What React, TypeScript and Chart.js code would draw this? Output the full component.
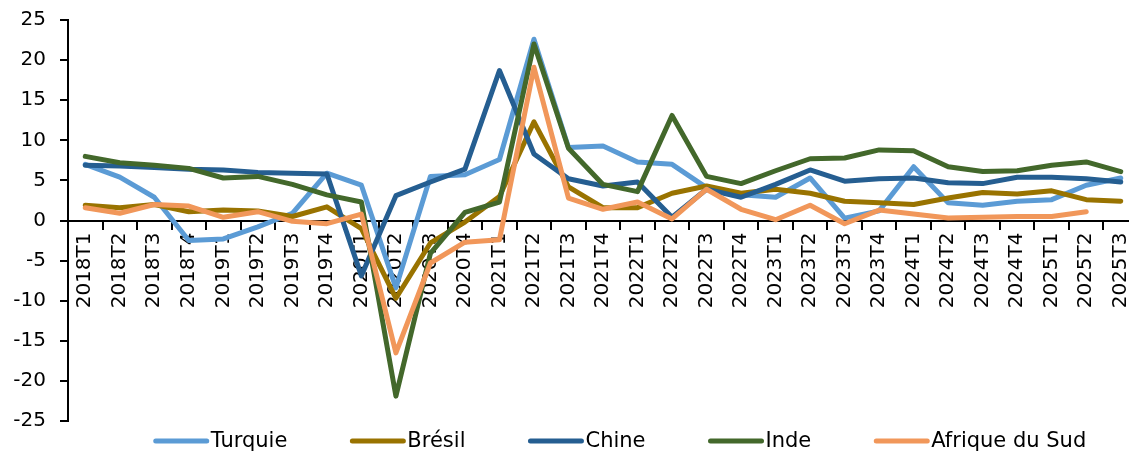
import { useEffect, useRef } from "react";
import { Chart, registerables } from "chart.js";

Chart.register(...registerables);

const FONT = "'DejaVu Sans', Verdana, sans-serif";

const quarters = [
  "2018T1", "2018T2", "2018T3", "2018T4",
  "2019T1", "2019T2", "2019T3", "2019T4",
  "2020T1", "2020T2", "2020T3", "2020T4",
  "2021T1", "2021T2", "2021T3", "2021T4",
  "2022T1", "2022T2", "2022T3", "2022T4",
  "2023T1", "2023T2", "2023T3", "2023T4",
  "2024T1", "2024T2", "2024T3", "2024T4",
  "2025T1", "2025T2", "2025T3",
];

const turquie = [7.0, 5.4, 2.9, -2.5, -2.3, -0.8, 0.9, 5.9, 4.4, -8.4, 5.5, 5.7, 7.6, 22.6, 9.1, 9.3, 7.3, 7.0, 4.1, 3.2, 2.9, 5.3, 0.3, 1.2, 6.7, 2.2, 1.9, 2.4, 2.6, 4.4, 5.3];
const bresil = [1.9, 1.6, 2.0, 1.1, 1.3, 1.2, 0.5, 1.7, -1.0, -9.7, -2.8, -0.2, 3.0, 12.3, 4.2, 1.6, 1.6, 3.4, 4.3, 3.4, 3.9, 3.4, 2.4, 2.2, 2.0, 2.8, 3.5, 3.3, 3.7, 2.6, 2.4];
const chine = [6.9, 6.8, 6.6, 6.4, 6.3, 6.0, 5.9, 5.8, -6.9, 3.1, 4.8, 6.4, 18.7, 8.3, 5.2, 4.3, 4.8, 0.4, 3.9, 2.9, 4.5, 6.3, 4.9, 5.2, 5.3, 4.7, 4.6, 5.4, 5.4, 5.2, 4.8];
const inde = [8.0, 7.2, 6.9, 6.5, 5.3, 5.5, 4.5, 3.2, 2.3, -21.9, -4.1, 1.0, 2.3, 22.0, 9.0, 4.5, 3.6, 13.1, 5.5, 4.6, 6.2, 7.7, 7.8, 8.8, 8.7, 6.7, 6.1, 6.2, 6.9, 7.3, 6.1];
const afriqueDuSud = [1.6, 0.9, 2.0, 1.8, 0.4, 1.1, -0.1, -0.4, 0.8, -16.5, -5.3, -2.7, -2.4, 19.1, 2.8, 1.4, 2.3, 0.2, 3.9, 1.4, 0.1, 1.9, -0.4, 1.3, 0.8, 0.3, 0.4, 0.5, 0.5, 1.1, null];

const seriesNames = ["Turquie", "Brésil", "Chine", "Inde", "Afrique du Sud"];
const seriesColors = ["#5B9BD5", "#997300", "#255E91", "#43682B", "#F1975A"];
const seriesValues = [turquie, bresil, chine, inde, afriqueDuSud];

const yMin = -25;
const yMax = 25;
const yStep = 5;

const bottomLegend = {
  id: "bottomLegend",
  afterDraw(chart: any) {
    const ctx = chart.ctx as CanvasRenderingContext2D;
    ctx.save();
    ctx.font = `21px ${FONT}`;
    const lineW = 55;
    const gapText = 2;
    const gapItem = 63;
    const items = chart.data.datasets.map((d: any) => ({
      label: d.label as string,
      color: d.borderColor as string,
      w: ctx.measureText(d.label).width,
    }));
    const total =
      items.reduce((s: number, it: any) => s + lineW + gapText + it.w, 0) +
      gapItem * (items.length - 1);
    let x = 620 - total / 2;
    const y = 441;
    ctx.textBaseline = "middle";
    ctx.textAlign = "left";
    for (const it of items) {
      ctx.beginPath();
      ctx.strokeStyle = it.color;
      ctx.lineWidth = 5;
      ctx.lineCap = "round";
      ctx.moveTo(x + 2, y);
      ctx.lineTo(x + lineW - 2, y);
      ctx.stroke();
      ctx.fillStyle = "#000";
      ctx.fillText(it.label, x + lineW + gapText, y + 1);
      x += lineW + gapText + it.w + gapItem;
    }
    ctx.restore();
  },
};

export default function App() {
  const canvasRef = useRef<HTMLCanvasElement | null>(null);

  useEffect(() => {
    document.body.style.margin = "0";
    document.documentElement.style.overflow = "hidden";
    const canvas = canvasRef.current;
    if (!canvas) return;
    const n = seriesNames.length;
    const chart = new Chart(canvas, {
      type: "line",
      data: {
        labels: quarters,
        datasets: seriesNames.map((name, i) => ({
          label: name,
          data: seriesValues[i],
          borderColor: seriesColors[i],
          backgroundColor: seriesColors[i],
          borderWidth: 5,
          pointRadius: 0,
          pointHoverRadius: 0,
          tension: 0,
          fill: false,
          spanGaps: false,
          borderCapStyle: "round",
          borderJoinStyle: "round",
          order: n - i,
        })),
      },
      options: {
        responsive: false,
        animation: false,
        devicePixelRatio: 1,
        events: [],
        layout: { padding: { left: 0, right: 2, top: 20, bottom: 31 } },
        plugins: {
          legend: { display: false },
          tooltip: { enabled: false },
          title: { display: false },
        },
        scales: {
          x: {
            type: "category",
            position: { y: 0 } as any,
            offset: true,
            afterFit: (s: any) => {
              s.height = 0;
              s.paddingLeft = 0;
              s.paddingRight = 0;
            },
            grid: {
              display: true,
              offset: true,
              drawOnChartArea: false,
              drawTicks: true,
              tickLength: 8,
              color: "#000",
              lineWidth: 2,
            },
            border: { display: true, color: "#000", width: 2 },
            ticks: {
              autoSkip: false,
              minRotation: 90,
              maxRotation: 90,
              padding: 4,
              color: "#000",
              font: { family: FONT, size: 20 },
            },
          },
          y: {
            type: "linear",
            min: yMin,
            max: yMax,
            afterFit: (s: any) => {
              s.width = 68;
              s.paddingTop = 0;
              s.paddingBottom = 0;
            },
            grid: {
              display: true,
              drawOnChartArea: false,
              drawTicks: true,
              tickLength: 8,
              color: "#000",
              lineWidth: 2,
            },
            border: { display: true, color: "#000", width: 2 },
            ticks: {
              stepSize: yStep,
              padding: 14,
              color: "#000",
              font: { family: FONT, size: 20 },
            },
          },
        },
      },
      plugins: [bottomLegend],
    });
    return () => chart.destroy();
  }, []);

  return (
    <div style={{ width: 1129, height: 452, overflow: "hidden", background: "#fff" }}>
      <canvas ref={canvasRef} width={1140} height={452} style={{ display: "block" }} />
    </div>
  );
}
